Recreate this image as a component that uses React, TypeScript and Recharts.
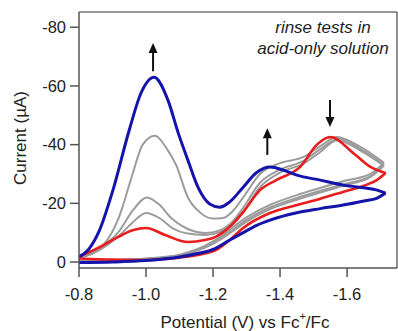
import React from "react";
import {
  ComposedChart,
  Line,
  XAxis,
  YAxis,
  ReferenceLine,
  ReferenceDot,
  Label,
} from "recharts";

// potential (V vs Fc+/Fc), current (µA) — forward (cathodic) scans
const blueForward: [number, number][] = [
  [-0.8, -1.8], [-0.83, -4.5], [-0.86, -10.5], [-0.9, -24], [-0.95, -45],
  [-0.985, -57.6], [-1.024, -63], [-1.066, -55], [-1.096, -44], [-1.125, -34.7],
  [-1.155, -25.5], [-1.19, -19.8], [-1.22, -18.7], [-1.25, -20.5], [-1.29, -25.5],
  [-1.33, -30.5], [-1.37, -32.4], [-1.41, -31.3], [-1.45, -29.6], [-1.52, -27.9],
  [-1.588, -26.2], [-1.69, -24.5], [-1.715, -23.5],
];
const blueReverse: [number, number][] = [
  [-0.8, 0.2], [-0.9, 0], [-1.0, -0.5], [-1.1, -1.7], [-1.15, -2.8],
  [-1.206, -4.6], [-1.25, -7.5], [-1.29, -10], [-1.33, -12.5], [-1.37, -14.3],
  [-1.45, -16.8], [-1.52, -18.2], [-1.588, -19.4], [-1.65, -20.8], [-1.69, -21.8],
  [-1.715, -23.5],
];
const redForward: [number, number][] = [
  [-0.8, -1.8], [-0.857, -4.8], [-0.916, -8.5], [-0.96, -10.8], [-1.0, -11.6],
  [-1.057, -9.2], [-1.125, -6.8], [-1.176, -7.5], [-1.206, -8.5], [-1.25, -12],
  [-1.29, -17], [-1.34, -24.5], [-1.39, -28], [-1.46, -32.4], [-1.51, -40],
  [-1.55, -42.6], [-1.62, -37], [-1.67, -32.4], [-1.715, -30.3],
];
const redReverse: [number, number][] = [
  [-0.8, -1.2], [-0.9, -0.8], [-1.0, -0.7], [-1.1, -1.5], [-1.15, -2.3],
  [-1.215, -4.5], [-1.25, -7.5], [-1.29, -11.6], [-1.37, -16.7], [-1.45, -19.4],
  [-1.52, -21.6], [-1.588, -23.9], [-1.65, -26], [-1.69, -28], [-1.715, -30.3],
];
const gray1Forward: [number, number][] = [
  [-0.8, -1.5], [-0.85, -3.5], [-0.88, -6.8], [-0.92, -15.5], [-0.96, -30],
  [-0.99, -40], [-1.027, -43], [-1.06, -39], [-1.09, -33], [-1.125, -22],
  [-1.16, -17], [-1.2, -14.8], [-1.23, -15], [-1.26, -17.5], [-1.29, -22],
  [-1.34, -30], [-1.4, -33.7], [-1.47, -35.8], [-1.52, -39.5], [-1.57, -42.6],
  [-1.64, -39.2], [-1.71, -33.8],
];
const gray2Forward: [number, number][] = [
  [-0.8, -1.6], [-0.86, -4.5], [-0.92, -10.5], [-0.96, -17.5], [-1.003, -22],
  [-1.04, -19.5], [-1.075, -15], [-1.12, -11.5], [-1.176, -9.9], [-1.22, -10.8],
  [-1.26, -14], [-1.29, -18.5], [-1.34, -27], [-1.4, -31.5], [-1.47, -34.5],
  [-1.52, -38.5], [-1.575, -42], [-1.64, -38.5], [-1.71, -33.2],
];
const gray3Forward: [number, number][] = [
  [-0.8, -1.5], [-0.86, -4], [-0.92, -9], [-0.96, -13.5], [-1.0, -16.7],
  [-1.04, -15], [-1.08, -11.5], [-1.12, -9.8], [-1.176, -9.2], [-1.22, -10.2],
  [-1.26, -13], [-1.29, -17], [-1.34, -25.5], [-1.4, -30.5], [-1.47, -33.5],
  [-1.52, -37.5], [-1.57, -41.5], [-1.64, -38], [-1.71, -32.8],
];
const gray1Reverse: [number, number][] = [
  [-0.8, -0.3], [-0.9, -0.6], [-1.0, -1.2], [-1.1, -2.5], [-1.2, -7],
  [-1.25, -11], [-1.29, -14.5], [-1.37, -19.5], [-1.45, -22.8], [-1.588, -27.5],
  [-1.67, -30], [-1.71, -33.8],
];
const gray2Reverse: [number, number][] = [
  [-0.8, -0.3], [-0.9, -0.6], [-1.0, -1.1], [-1.1, -2.3], [-1.2, -6.5],
  [-1.25, -10.2], [-1.29, -13.6], [-1.37, -18.6], [-1.45, -21.8], [-1.588, -26.5],
  [-1.67, -29.3], [-1.71, -33.2],
];
const gray3Reverse: [number, number][] = [
  [-0.8, -0.3], [-0.9, -0.6], [-1.0, -1.0], [-1.1, -2.2], [-1.2, -6.2],
  [-1.25, -9.8], [-1.29, -13], [-1.37, -18], [-1.45, -21.2], [-1.588, -26],
  [-1.67, -29], [-1.71, -32.8],
];

// arrows: [potential, tail current, tip current]
const arrows: [number, number, number][] = [
  [-1.021, -65, -74.6],
  [-1.362, -36.5, -45.6],
  [-1.549, -55.2, -46],
];

const xTicks = [-0.8, -1.0, -1.2, -1.4, -1.6];
const yTicks = [0, -20, -40, -60, -80];
const xDomain: [number, number] = [-1.749, -0.8];
const yDomain: [number, number] = [-85.2, 2.04];
const annotationLines = ["rinse tests in", "acid-only solution"];

const FONT = "'Liberation Sans', Arial, Helvetica, sans-serif";
const BLUE = "#1414ac";
const RED = "#ea1c1c";
const GRAY = "#9c9c9c";

const pts = (a: [number, number][]) => a.map(([v, i]) => ({ v, i }));

const series: { data: [number, number][]; color: string; width: number }[] = [
  { data: gray1Forward, color: GRAY, width: 2 },
  { data: gray1Reverse, color: GRAY, width: 2 },
  { data: gray2Forward, color: GRAY, width: 2 },
  { data: gray2Reverse, color: GRAY, width: 2 },
  { data: gray3Forward, color: GRAY, width: 2 },
  { data: gray3Reverse, color: GRAY, width: 2 },
  { data: redForward, color: RED, width: 2.6 },
  { data: redReverse, color: RED, width: 2.6 },
  { data: blueForward, color: BLUE, width: 3 },
  { data: blueReverse, color: BLUE, width: 3 },
];

export default function App() {
  return (
    <div style={{ position: "absolute", left: 0, top: 0, width: 398, height: 331, background: "#fff" }}>
      <ComposedChart
        width={398}
        height={331}
        margin={{ top: 12, right: 1, bottom: 0, left: 0 }}
      >
        <XAxis
          dataKey="v"
          type="number"
          domain={xDomain}
          reversed
          ticks={xTicks}
          allowDataOverflow
          tickFormatter={(t: number) => t.toFixed(1)}
          height={63}
          tickSize={9}
          tickMargin={11}
          axisLine={{ stroke: "#555", strokeWidth: 1.5 }}
          tickLine={{ stroke: "#555", strokeWidth: 1.5 }}
          tick={{ fill: "#222", fontSize: 16.5, fontFamily: FONT }}
        >
          <Label
            content={() => (
              <text x={245} y={328} textAnchor="middle" fill="#222" fontSize={17} fontFamily={FONT}>
                Potential (V) vs Fc
                <tspan fontSize={11} dy={-8}>+</tspan>
                <tspan dy={8}>/Fc</tspan>
              </text>
            )}
          />
        </XAxis>
        <YAxis
          type="number"
          domain={yDomain}
          reversed
          allowDataOverflow
          ticks={yTicks}
          width={79}
          tickSize={9}
          tickMargin={4}
          axisLine={{ stroke: "#555", strokeWidth: 1.5 }}
          tickLine={{ stroke: "#555", strokeWidth: 1.5 }}
          tick={{ fill: "#222", fontSize: 16.5, fontFamily: FONT }}
        >
          <Label
            content={() => (
              <text
                x={26}
                y={138}
                transform="rotate(-90, 26, 138)"
                textAnchor="middle"
                fill="#222"
                fontSize={17}
                fontFamily={FONT}
              >
                Current (µA)
              </text>
            )}
          />
        </YAxis>
        <ReferenceLine y={yDomain[0]} stroke="#333" strokeWidth={1.2} ifOverflow="visible" />
        <ReferenceLine x={xDomain[0]} stroke="#444" strokeWidth={1.2} ifOverflow="visible" />
        {series.map((s, k) => (
          <Line
            key={k}
            data={pts(s.data)}
            dataKey="i"
            type="monotone"
            stroke={s.color}
            strokeWidth={s.width}
            dot={false}
            activeDot={false}
            isAnimationActive={false}
          />
        ))}
        {arrows.map(([v, tail, tip], k) => {
          const up = tip < tail;
          const shaftEnd = up ? tip + 3 : tip - 3;
          return (
            <ReferenceLine
              key={"s" + k}
              segment={[{ x: v, y: tail }, { x: v, y: shaftEnd }]}
              stroke="#111"
              strokeWidth={2}
              ifOverflow="visible"
            />
          );
        })}
        {arrows.map(([v, tail, tip], k) => {
          const up = tip < tail;
          return (
            <ReferenceDot
              key={"h" + k}
              x={v}
              y={tip}
              r={0}
              ifOverflow="visible"
              shape={(p: any) => {
                const cx = p.cx, cy = p.cy;
                const d = up ? 10 : -10;
                return (
                  <polygon
                    points={`${cx},${cy} ${cx - 4.5},${cy + d} ${cx + 4.5},${cy + d}`}
                    fill="#111"
                  />
                );
              }}
            />
          );
        })}
        <ReferenceDot
          x={-1.528}
          y={-78}
          r={0}
          ifOverflow="visible"
          shape={(p: any) => (
            <text
              x={p.cx}
              y={p.cy}
              textAnchor="middle"
              fill="#222"
              fontSize={17}
              fontStyle="italic"
              fontFamily={FONT}
            >
              <tspan x={p.cx}>{annotationLines[0]}</tspan>
              <tspan x={p.cx} dy={21}>{annotationLines[1]}</tspan>
            </text>
          )}
        />
      </ComposedChart>
    </div>
  );
}
